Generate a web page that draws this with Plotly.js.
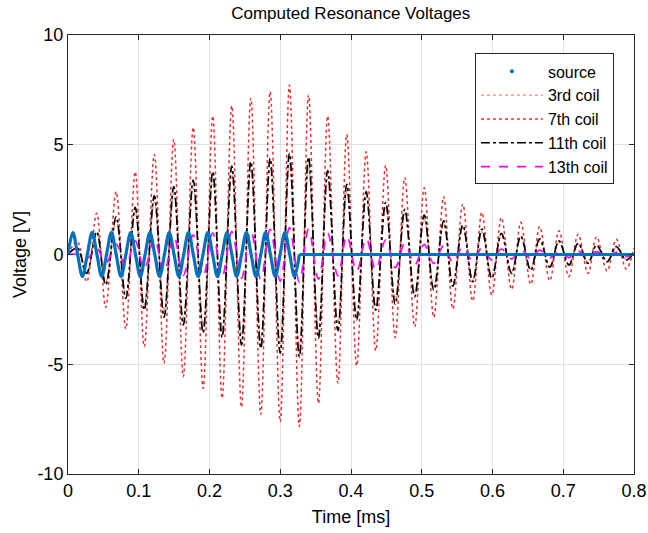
<!DOCTYPE html>
<html>
<head>
<meta charset="utf-8">
<script src="https://cdn.plot.ly/plotly-3.0.1.min.js"></script>
<style>html,body{margin:0;padding:0;background:#fff;}#chart{width:648px;height:533px;}</style>
</head>
<body>
<div id="chart"></div>
<script>
// Source excitation: quarter-period points (12 cycles, then zero)
const srcTime = [0, 0.0068, 0.0136, 0.0204, 0.0273, 0.0341, 0.0409, 0.0477, 0.0545, 0.0613, 0.0681, 0.0749,
  0.0818, 0.0886, 0.0954, 0.1022, 0.109, 0.1158, 0.1226, 0.1294, 0.1363, 0.1431, 0.1499, 0.1567,
  0.1635, 0.1703, 0.1771, 0.1839, 0.1908, 0.1976, 0.2044, 0.2112, 0.218, 0.2248, 0.2316, 0.2384,
  0.2453, 0.2521, 0.2589, 0.2657, 0.2725, 0.2793, 0.2861, 0.2929, 0.2998, 0.3066, 0.3134, 0.3202, 0.327];
const srcVolt = [0, 1, 0, -1, 0, 1, 0, -1, 0, 1, 0, -1,
  0, 1, 0, -1, 0, 1, 0, -1, 0, 1, 0, -1,
  0, 1, 0, -1, 0, 1, 0, -1, 0, 1, 0, -1,
  0, 1, 0, -1, 0, 1, 0, -1, 0, 1, 0, -1, 0];
const srcTailTime = [0.327, 0.8];
const srcTailVolt = [0, 0];

// Times of the coil extremes (peaks / troughs) [ms]
const extTime = [0, 0.013, 0.0264, 0.0405, 0.0533, 0.068, 0.0816, 0.095, 0.1078, 0.122, 0.1358, 0.1495,
  0.163, 0.177, 0.191, 0.2046, 0.2178, 0.2315, 0.2452, 0.2584, 0.2725, 0.2857, 0.2999, 0.313,
  0.327, 0.340, 0.354, 0.367, 0.3815, 0.394, 0.408, 0.4215, 0.435, 0.449, 0.4625, 0.476,
  0.49, 0.5035, 0.517, 0.531, 0.544, 0.558, 0.572, 0.585, 0.599, 0.6126, 0.627, 0.64,
  0.654, 0.6667, 0.681, 0.694, 0.708, 0.721, 0.735, 0.747, 0.762, 0.775, 0.789, 0.8];

const coil3 = [0, 0.27, -0.78, 0.94, -1.25, 1.55, -1.8, 1.94, -2.28, 2.4, -2.57, 2.78,
  -2.89, 3.05, -3.2, 3.39, -3.39, 3.63, -3.71, 3.81, -3.84, 3.94, -4.05, 4.15,
  -4.19, 3.99, -3.44, 3.44, -3.12, 2.88, -2.68, 2.57, -2.28, 2.14, -2.03, 1.85,
  -1.73, 1.62, -1.46, 1.38, -1.3, 1.21, -1.12, 1.04, -0.98, 0.86, -0.77, 0.76,
  -0.64, 0.64, -0.52, 0.56, -0.43, 0.46, -0.36, 0.39, -0.3, 0.32, -0.23, 0.09];

const coil7 = [0, 0.6, -1.24, 1.88, -2.41, 2.86, -3.39, 3.77, -4.2, 4.56, -4.96, 5.25,
  -5.57, 5.79, -6.1, 6.31, -6.55, 6.77, -6.96, 7.12, -7.28, 7.42, -7.62, 7.72,
  -7.84, 7.27, -6.78, 6.31, -5.87, 5.47, -5.07, 4.68, -4.38, 4.06, -3.79, 3.5,
  -3.29, 3.04, -2.86, 2.63, -2.48, 2.29, -2.12, 1.92, -1.85, 1.68, -1.59, 1.47,
  -1.36, 1.27, -1.19, 1.08, -1.01, 0.92, -0.86, 0.80, -0.75, 0.69, -0.66, 0.3];

const coil11 = [0, 0.3, -0.86, 1.04, -1.39, 1.72, -2.0, 2.15, -2.53, 2.67, -2.86, 3.09,
  -3.21, 3.39, -3.56, 3.77, -3.77, 4.03, -4.12, 4.23, -4.27, 4.38, -4.5, 4.61,
  -4.66, 4.43, -3.82, 3.82, -3.47, 3.2, -2.98, 2.86, -2.53, 2.38, -2.26, 2.06,
  -1.92, 1.8, -1.62, 1.53, -1.44, 1.34, -1.24, 1.16, -1.09, 0.96, -0.86, 0.84,
  -0.71, 0.71, -0.58, 0.62, -0.48, 0.51, -0.4, 0.43, -0.33, 0.36, -0.25, 0.1];

const coil13 = [0, 0, -0.2, 0.28, -0.4, 0.47, -0.55, 0.62, -0.68, 0.74, -0.82, 0.85,
  -0.95, 0.89, -1.0, 0.98, -1.03, 1.04, -1.08, 1.08, -1.13, 1.15, -1.21, 1.22,
  -1.27, 1.16, -1.12, 0.97, -0.97, 0.86, -0.78, 0.74, -0.71, 0.66, -0.6, 0.5,
  -0.48, 0.45, -0.4, 0.4, -0.36, 0.35, -0.3, 0.3, -0.25, 0.25, -0.2, 0.22,
  -0.18, 0.2, -0.15, 0.18, -0.14, 0.15, -0.12, 0.13, -0.1, 0.11, -0.1, 0.05];

const xTicks = [0, 0.1, 0.2, 0.3, 0.4, 0.5, 0.6, 0.7, 0.8];
const xTickText = ['0', '0.1', '0.2', '0.3', '0.4', '0.5', '0.6', '0.7', '0.8'];
const yTicks = [-10, -5, 0, 5, 10];
const yTickText = ['-10', '-5', '0', '5', '10'];

const FONT = 'Liberation Sans, Arial, sans-serif';
const blue = '#0072BD';

const traces = [
  {x: extTime, y: coil3, type: 'scatter', mode: 'lines', name: '3rd coil', legendrank: 2,
   line: {color: 'rgb(222,140,115)', width: 1.3, dash: 'dot', shape: 'spline', smoothing: 1}},
  {x: extTime, y: coil7, type: 'scatter', mode: 'lines', name: '7th coil', legendrank: 3,
   line: {color: 'rgb(232,50,50)', width: 1.5, dash: 'dot', shape: 'spline', smoothing: 1}},
  {x: extTime, y: coil11, type: 'scatter', mode: 'lines', name: '11th coil', legendrank: 4,
   line: {color: '#000000', width: 1.7, dash: 'dashdot', shape: 'spline', smoothing: 1}},
  {x: extTime, y: coil13, type: 'scatter', mode: 'lines', name: '13th coil', legendrank: 5,
   line: {color: '#FF00FF', width: 1.7, dash: 'dash', shape: 'spline', smoothing: 1}},
  {x: srcTime, y: srcVolt, type: 'scatter', mode: 'lines', name: 'source', showlegend: false,
   line: {color: blue, width: 3.2, shape: 'spline', smoothing: 1}},
  {x: srcTailTime, y: srcTailVolt, type: 'scatter', mode: 'lines', name: 'source', showlegend: false,
   line: {color: blue, width: 3.2}},
  {x: [null], y: [null], type: 'scatter', mode: 'markers', name: 'source', legendrank: 1,
   marker: {color: blue, size: 4}}
];

const layout = {
  width: 648, height: 533,
  margin: {l: 68, r: 14, t: 35, b: 59, pad: 0},
  paper_bgcolor: '#fff', plot_bgcolor: '#fff',
  font: {family: FONT, size: 16, color: '#262626'},
  title: {text: 'Computed Resonance Voltages', font: {family: FONT, size: 17, color: '#000'},
          x: 0.5413, xanchor: 'center', y: 0.975, yanchor: 'middle'},
  showlegend: true,
  legend: {x: 0.719, y: 0.958, xanchor: 'left', yanchor: 'top', bgcolor: '#fff',
           bordercolor: '#262626', borderwidth: 1, font: {family: FONT, size: 16, color: '#000'},
           tracegroupgap: 0, itemwidth: 62},
  xaxis: {range: [0, 0.8], tickvals: xTicks, ticktext: xTickText, ticks: 'inside', ticklen: 5,
          tickcolor: '#262626', showline: true, linecolor: '#262626', linewidth: 1, mirror: 'ticks',
          showgrid: true, gridcolor: '#e1e1e1', gridwidth: 1, zeroline: false,
          tickfont: {family: FONT, size: 18, color: '#000'},
          title: {text: 'Time [ms]', font: {family: FONT, size: 18, color: '#000'}, standoff: 10}},
  yaxis: {range: [-10, 10], tickvals: yTicks, ticktext: yTickText, ticks: 'inside', ticklen: 5,
          tickcolor: '#262626', showline: true, linecolor: '#262626', linewidth: 1, mirror: 'ticks',
          showgrid: true, gridcolor: '#e1e1e1', gridwidth: 1, zeroline: false,
          tickfont: {family: FONT, size: 18, color: '#000'},
          title: {text: 'Voltage [V]', font: {family: FONT, size: 18, color: '#000'}, standoff: 6}}
};

Plotly.newPlot('chart', traces, layout, {staticPlot: true, displayModeBar: false});
</script>
</body>
</html>
